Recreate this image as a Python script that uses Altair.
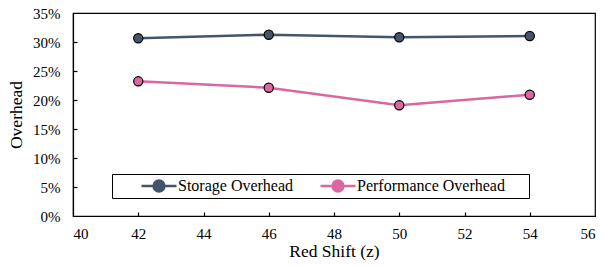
import altair as alt
import pandas as pd

z_values = [42, 46, 50, 54]
series_names = ["Storage Overhead", "Performance Overhead"]
storage = [30.64, 31.26, 30.81, 31.03]
performance = [23.22, 22.12, 19.09, 20.91]
colors = ["#44546A", "#DA67A0"]

rows = []
for name, vals in zip(series_names, [storage, performance]):
    for zv, v in zip(z_values, vals):
        rows.append({"z": zv, "series": name, "value": v})
df = pd.DataFrame(rows)

FONT = "Liberation Serif, Times New Roman, serif"
W, H = 522, 203

xscale = alt.Scale(domain=[40, 56], nice=False, zero=False)
yscale = alt.Scale(domain=[0, 35], nice=False)
cscale = alt.Scale(domain=series_names, range=colors)

legend_path = "M-1,0H1M0.31,0A0.31,0.31,0,1,1,-0.31,0A0.31,0.31,0,1,1,0.31,0Z"

legend = alt.Legend(
    title="\u00a0",
    titleOrient="right",
    titlePadding=20,
    titleFont=FONT,
    titleFontSize=16,
    orient="none",
    legendX=39,
    legendY=161,
    direction="horizontal",
    symbolType=legend_path,
    symbolSize=1225,
    symbolStrokeWidth=2.5,
    symbolOffset=24,
    labelOffset=0,
    columnPadding=1,
    clipHeight=16,
    padding=4,
    labelFont=FONT,
    labelFontSize=16,
    labelColor="black",
    strokeColor="black",
    fillColor="white",
)

label_style = dict(labelFont=FONT, labelFontSize=15, labelColor="black",
                   labelFontWeight="normal",
                   titleFont=FONT, titleFontSize=17.5, titleColor="black",
                   titleFontWeight="normal")

lines = alt.Chart(df).mark_line(strokeWidth=2.5).encode(
    x=alt.X("z:Q", scale=xscale, axis=alt.Axis(
        title="Red Shift (z)", values=[40, 42, 44, 46, 48, 50, 52, 54, 56],
        ticks=False, tickSize=0, labelPadding=10, titlePadding=1, grid=False,
        domainColor="black", domainWidth=1.2, **label_style,
    )),
    y=alt.Y("value:Q", scale=yscale, axis=alt.Axis(
        title="Overhead", values=[0, 5, 10, 15, 20, 25, 30, 35],
        labelExpr="datum.value + '%'",
        ticks=False, tickSize=0, labelPadding=13, titlePadding=7, grid=False,
        domainColor="black", domainWidth=1.2, **label_style,
    )),
    color=alt.Color("series:N", scale=cscale, legend=legend),
)

points = alt.Chart(df).mark_point(
    filled=True, shape="circle", size=85, stroke="black", strokeWidth=1.2, opacity=1
).encode(
    x=alt.X("z:Q", scale=xscale, axis=alt.Axis(
        orient="top", offset=-H, values=[42, 44, 46, 48, 50, 52, 54],
        labels=False, title=None, domain=False, ticks=True, tickSize=4,
        tickColor="black", tickWidth=1.2, grid=False,
    )),
    y=alt.Y("value:Q", scale=yscale, axis=alt.Axis(
        orient="right", offset=-W, values=[5, 10, 15, 20, 25, 30],
        labels=False, title=None, domain=False, ticks=True, tickSize=4,
        tickColor="black", tickWidth=1.2, grid=False,
    )),
    color=alt.Color("series:N", scale=cscale, legend=legend),
)

chart = alt.layer(lines, points).resolve_axis(
    x="independent", y="independent"
).properties(
    width=W, height=H,
    autosize=alt.AutoSizeParams(type="none"),
    padding={"left": 65, "top": 5, "right": 2, "bottom": 50},
    background="white",
).configure(
    font=FONT,
    style={"guide-label": {"font": FONT}, "guide-title": {"font": FONT}},
).configure_view(
    stroke="black", strokeWidth=1.2
).configure_axis(
    labelFont=FONT, titleFont=FONT
)

chart.save("out.html", embed_options={"renderer": "svg", "actions": False})
